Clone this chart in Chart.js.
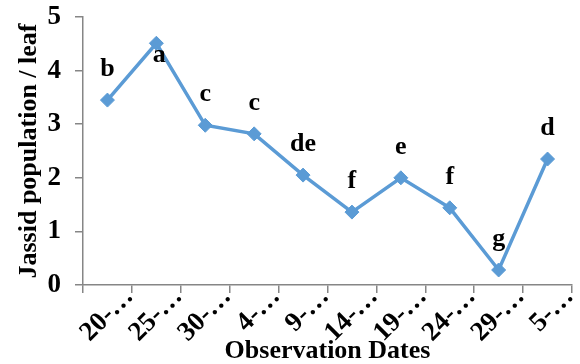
<!DOCTYPE html>
<html>
<head>
<meta charset="utf-8">
<script src="https://cdn.jsdelivr.net/npm/chart.js@4.4.1/dist/chart.umd.min.js"></script>
<style>
  html, body { margin: 0; padding: 0; background: #fff; }
  #wrap { width: 580px; height: 364px; }
</style>
</head>
<body>
<div id="wrap"><canvas id="jassidChart"></canvas></div>
<script>
const dateLabels = ['20-…', '25-…', '30-…', '4-…', '9-…', '14-…', '19-…', '24-…', '29-…', '5-…'];
const jassidPerLeaf = [3.45, 4.51, 2.98, 2.82, 2.05, 1.36, 2.0, 1.44, 0.28, 2.35];
const groupLetters = ['b', 'a', 'c', 'c', 'de', 'f', 'e', 'f', 'g', 'd'];

const serif = 'Liberation Serif, Times New Roman, serif';
const axisGrey = '#868686';

// letters of significance above each point (below if no room at the top)
const letterPlugin = {
    id: 'letters',
    afterDatasetsDraw(chart) {
        const ctx = chart.ctx;
        const meta = chart.getDatasetMeta(0);
        ctx.save();
        ctx.font = 'bold 26px ' + serif;
        ctx.fillStyle = '#000';
        ctx.textAlign = 'center';
        ctx.textBaseline = 'alphabetic';
        meta.data.forEach((pt, i) => {
            let y = pt.y - 24;
            let x = pt.x;
            if (y - 16 < chart.chartArea.top) {
                y = pt.y + 19;
                x += 3;
            }
            ctx.fillText(groupLetters[i], x, y);
        });
        ctx.restore();
    }
};

new Chart(document.getElementById('jassidChart'), {
    type: 'line',
    data: {
        labels: dateLabels,
        datasets: [{
            data: jassidPerLeaf,
            borderColor: '#5B9BD5',
            backgroundColor: '#5B9BD5',
            borderWidth: 3.5,
            pointStyle: 'rectRot',
            pointRadius: 7,
            pointBorderWidth: 1,
            tension: 0,
            fill: false
        }]
    },
    options: {
        responsive: true,
        maintainAspectRatio: false,
        animation: false,
        layout: { padding: { top: 17, right: 4, left: 0, bottom: 0 } },
        plugins: {
            legend: { display: false },
            tooltip: { enabled: false }
        },
        scales: {
            x: {
                offset: true,
                afterFit(scale) {
                    scale.height = 79;
                    scale.paddingLeft = 0;
                    scale.paddingRight = 0;
                },
                grid: {
                    offset: true,
                    drawOnChartArea: false,
                    color: axisGrey,
                    lineWidth: 1.5,
                    tickLength: 8
                },
                border: { color: axisGrey, width: 1.5 },
                ticks: {
                    color: '#000',
                    font: { family: serif, size: 27, weight: 'bold' },
                    minRotation: 45,
                    maxRotation: 45,
                    autoSkip: false,
                    labelOffset: 22,
                    padding: -12
                },
                title: {
                    display: true,
                    text: 'Observation Dates',
                    color: '#000',
                    font: { family: serif, size: 26, weight: 'bold', lineHeight: 1 },
                    padding: { top: 0, bottom: 0 }
                }
            },
            y: {
                min: 0,
                max: 5,
                afterFit(scale) {
                    scale.width = 83;
                    scale.paddingTop = 0;
                    scale.paddingBottom = 0;
                },
                grid: {
                    drawOnChartArea: false,
                    color: axisGrey,
                    lineWidth: 1.5,
                    tickLength: 8
                },
                border: { color: axisGrey, width: 1.5 },
                ticks: {
                    stepSize: 1,
                    color: '#000',
                    font: { family: serif, size: 27, weight: 'bold' },
                    padding: 14
                },
                title: {
                    display: true,
                    text: 'Jassid population / leaf',
                    color: '#000',
                    font: { family: serif, size: 26, weight: 'bold', lineHeight: 1 },
                    padding: { top: 16, bottom: 0 }
                }
            }
        }
    },
    plugins: [letterPlugin]
});
</script>
</body>
</html>
